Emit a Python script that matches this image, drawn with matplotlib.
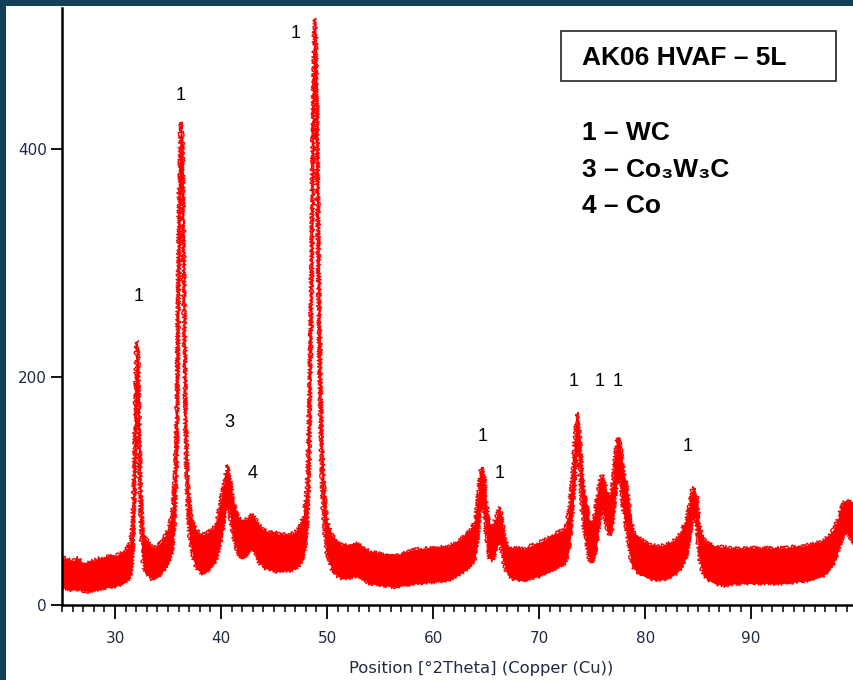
import matplotlib
matplotlib.use("Agg")
import matplotlib.pyplot as plt
from matplotlib.patches import Rectangle
from matplotlib.ticker import MultipleLocator

# ---- XRD pattern: 2theta, lower / upper edge of the noisy trace ----
two_theta = [25.0, 25.5, 26.0, 26.5, 27.0, 27.5, 28.0, 28.5, 29.0, 29.5, 30.0, 30.5, 31.0,
             31.4, 31.6, 31.75, 31.9, 32.0, 32.1, 32.2, 32.3, 32.45, 32.6, 32.8, 33.2, 33.6,
             34.0, 34.4, 34.8, 35.1, 35.4, 35.65, 35.85, 36.0, 36.15, 36.25, 36.4, 36.55,
             36.7, 36.85, 37.0, 37.2, 37.6, 38.0, 38.4, 38.8, 39.2, 39.6, 39.9, 40.2, 40.45,
             40.6, 40.8, 41.0, 41.3, 41.7, 42.1, 42.5, 42.9, 43.2, 43.6, 44.0, 44.5, 45.0,
             45.5, 46.0, 46.5, 47.0, 47.4, 47.8, 48.1, 48.3, 48.45, 48.6, 48.75, 48.85, 48.95,
             49.1, 49.25, 49.4, 49.55, 49.75, 50.0, 50.5, 51.0, 51.5, 52.0, 52.5, 53.0, 53.5,
             54.0, 54.5, 55.0, 55.5, 56.0, 56.5, 57.0, 57.5, 58.0, 58.5, 59.0, 59.5, 60.0,
             60.5, 61.0, 61.5, 62.0, 62.5, 63.0, 63.5, 63.9, 64.2, 64.45, 64.65, 64.85, 65.05,
             65.3, 65.6, 65.9, 66.2, 66.45, 66.7, 67.0, 67.5, 68.0, 68.5, 69.0, 69.5, 70.0,
             70.5, 71.0, 71.5, 72.0, 72.5, 72.8, 73.05, 73.3, 73.5, 73.65, 73.8, 74.0, 74.2,
             74.45, 74.75, 75.0, 75.25, 75.5, 75.75, 75.95, 76.15, 76.4, 76.65, 76.9, 77.15,
             77.4, 77.55, 77.75, 78.0, 78.3, 78.6, 78.9, 79.4, 80.0, 80.5, 81.0, 81.5, 82.0,
             82.5, 83.0, 83.5, 83.9, 84.2, 84.45, 84.65, 84.85, 85.1, 85.4, 85.8, 86.5, 87.0,
             87.5, 88.0, 89.0, 90.0, 91.0, 92.0, 93.0, 94.0, 95.0, 96.0, 96.7, 97.3, 97.8,
             98.2, 98.6, 99.0, 99.3, 99.7]
counts_low = [15, 14, 13, 14, 12, 12, 13, 14, 15, 16, 16, 18, 20,
              24, 32, 58, 108, 168, 198, 158, 108, 58, 38, 30, 25, 22,
              24, 28, 33, 37, 47, 72, 128, 248, 358, 388, 328, 198,
              118, 82, 62, 49, 33, 29, 27, 31, 34, 41, 52, 67, 82,
              92, 82, 67, 53, 43, 41, 45, 52, 45, 37, 33, 31, 30,
              29, 30, 30, 32, 35, 43, 62, 108, 198, 298, 438, 468, 438,
              318, 208, 138, 92, 62, 42, 30, 25, 23, 24, 25, 25, 22,
              19, 18, 17, 17, 16, 16, 17, 18, 18, 19, 19, 20, 20,
              21, 21, 22, 24, 27, 30, 34, 39, 57, 82, 92, 77, 57,
              41, 39, 47, 57, 49, 35, 27, 23, 22, 21, 23, 24, 25,
              27, 29, 32, 34, 37, 47, 67, 98, 128, 138, 118, 87, 67,
              54, 39, 37, 43, 57, 77, 85, 77, 65, 61, 67, 92,
              112, 115, 97, 77, 62, 42, 32, 27, 25, 23, 22, 22, 23,
              25, 28, 34, 42, 57, 75, 80, 67, 42, 29, 23, 19, 18,
              17, 18, 19, 19, 19, 19, 19, 20, 21, 23, 25, 30, 37,
              47, 59, 65, 59, 52]
counts_high = [42, 40, 39, 41, 37, 38, 39, 41, 42, 44, 43, 45, 48,
               54, 66, 104, 174, 228, 232, 218, 164, 99, 69, 60, 54, 50,
               52, 56, 62, 68, 84, 114, 204, 354, 418, 424, 404, 284,
               164, 114, 94, 76, 67, 62, 62, 64, 67, 74, 89, 104, 116,
               123, 114, 102, 86, 76, 74, 76, 80, 76, 70, 66, 64, 64,
               62, 62, 62, 64, 68, 80, 104, 174, 264, 394, 504, 515, 504,
               424, 304, 204, 144, 99, 74, 61, 55, 52, 53, 54, 54, 50,
               47, 46, 45, 44, 45, 44, 45, 47, 48, 49, 49, 50, 50,
               51, 51, 52, 54, 57, 61, 66, 72, 94, 118, 121, 112, 89,
               72, 70, 76, 86, 80, 62, 52, 50, 50, 49, 51, 53, 55,
               57, 60, 62, 65, 68, 82, 104, 139, 165, 169, 154, 124, 104,
               90, 74, 72, 82, 99, 111, 114, 110, 99, 97, 104, 132,
               147, 147, 134, 116, 104, 79, 64, 60, 55, 53, 52, 52, 53,
               55, 59, 66, 76, 90, 102, 103, 96, 72, 60, 55, 52, 51,
               51, 50, 50, 50, 50, 50, 50, 51, 52, 54, 56, 61, 67,
               76, 89, 92, 92, 86]

# ---- Peak labels (phase number and where it sits) ----
label_text = ["1", "1", "1", "3", "4", "1", "1", "1", "1", "1", "1"]
label_x = [32.25, 36.2, 47.0, 40.75, 43.0, 64.7, 66.3, 73.3, 75.75, 77.45, 84.0]
label_y = [271, 447, 502, 160, 115, 148, 115, 196, 196, 196, 139]

phase_legend = ["1 – WC", "3 – Co₃W₃C", "4 – Co"]
sample_name = "AK06 HVAF – 5L"

W, H = 854, 680
fig = plt.figure(figsize=(W / 100, H / 100), dpi=100, facecolor="#114058")
fig.patches.append(Rectangle((6 / W, 0), 1, (H - 6) / H, transform=fig.transFigure,
                             facecolor="white", edgecolor="none", zorder=-1))

ax = fig.add_axes([62 / W, 75 / H, 792 / W, 597 / H])
ax.set_zorder(1)
ax.set_facecolor("white")
ax.fill_between(two_theta, counts_low, counts_high, color="#ff0000", lw=0)
# noisy edges of the trace: a light sketch style roughens the edge lines
for edge in (counts_high, counts_low):
    ln, = ax.plot(two_theta, edge, color="#ff0000", lw=1.0)
    ln.set_sketch_params(scale=1.8, length=1.5, randomness=2)

ax.set_xlim(25, 99.7)
ax.set_ylim(0, 524)
for s in ["top", "right"]:
    ax.spines[s].set_visible(False)
for s in ["left", "bottom"]:
    ax.spines[s].set_linewidth(1.8)
    ax.spines[s].set_color("black")

tick_col = "#1f2a44"
ax.xaxis.set_major_locator(MultipleLocator(10))
ax.xaxis.set_minor_locator(MultipleLocator(1))
ax.set_xticks([30, 40, 50, 60, 70, 80, 90])
ax.set_yticks([0, 200, 400])
ax.tick_params(axis="x", which="major", direction="out", length=10, width=1.3,
               labelsize=11, labelcolor=tick_col, pad=9)
ax.tick_params(axis="x", which="minor", direction="out", length=5, width=1.1)
ax.tick_params(axis="y", which="major", direction="out", length=8, width=1.3,
               labelsize=11, labelcolor=tick_col, pad=3)

fig.text(481 / W, 1 - 668 / H, "Position [°2Theta] (Copper (Cu))", ha="center", va="center",
         fontsize=11.8, color=tick_col)

for t, x, y in zip(label_text, label_x, label_y):
    ax.text(x, y, t, ha="center", va="center", fontsize=13,
            family=["Liberation Sans", "DejaVu Sans"])

fig.patches.append(Rectangle((561 / W, 1 - 81 / H), 275 / W, 50 / H, transform=fig.transFigure,
                             facecolor="white", edgecolor="#222222", lw=1.2, zorder=3))
fig.text(582 / W, 1 - 58 / H, sample_name, ha="left", va="center", fontsize=19,
         fontweight="bold", family=["Liberation Sans", "DejaVu Sans"], zorder=4)
for i, line in enumerate(phase_legend):
    fig.text(582 / W, 1 - (133 + 36.5 * i) / H, line, ha="left", va="center", fontsize=19,
             fontweight="bold", family=["Liberation Sans", "DejaVu Sans"], zorder=4)

fig.savefig("out.png", dpi=100, facecolor=fig.get_facecolor())
